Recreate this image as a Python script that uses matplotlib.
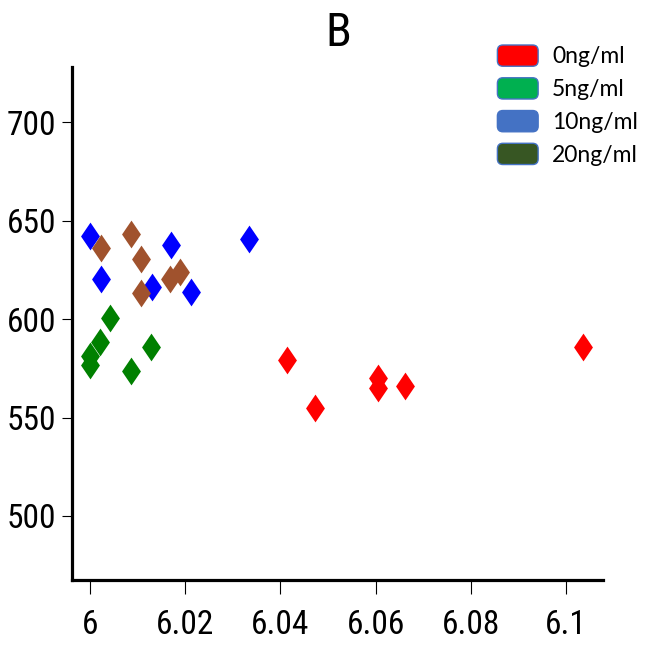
import matplotlib
matplotlib.use("Agg")
import matplotlib.pyplot as plt
from matplotlib.patches import Patch, FancyBboxPatch
from matplotlib.legend_handler import HandlerPatch


# points (x, y per group)
x_0ng = [6.0413, 6.0473, 6.0606, 6.0606, 6.0662, 6.1036]
y_0ng = [579.3, 554.9, 570.0, 565.0, 565.8, 586.0]

x_5ng = [6.0042, 6.0021, 6.0000, 6.0000, 6.0127, 6.0085]
y_5ng = [600.3, 588.4, 581.0, 576.8, 586.0, 573.4]

x_10ng = [6.0000, 6.0170, 6.0334, 6.0022, 6.0130, 6.0212]
y_10ng = [642.0, 637.4, 640.8, 620.6, 616.3, 613.8]

x_20ng = [6.0085, 6.0022, 6.0107, 6.0168, 6.0190, 6.0107]
y_20ng = [643.0, 636.2, 630.7, 620.2, 623.9, 613.0]

legend_labels = ["0ng/ml", "5ng/ml", "10ng/ml", "20ng/ml"]
legend_colors = ["#FF0000", "#00B050", "#4472C4", "#375623"]

xticks = [6, 6.02, 6.04, 6.06, 6.08, 6.1]
xtick_labels = ["6", "6.02", "6.04", "6.06", "6.08", "6.1"]
yticks = [500, 550, 600, 650, 700]

narrow = ["Roboto Condensed", "DejaVu Sans"]

# diamond, a bit wider than matplotlib's thin 'd'
diamond = [(0, 1), (0.68, 0), (0, -1), (-0.68, 0), (0, 1)]

fig = plt.figure(figsize=(6.58, 6.48), dpi=100)
ax = fig.add_axes([72 / 658, 68 / 648, 531 / 658, 513 / 648])

groups = [(x_0ng, y_0ng, "#FF0000"),
          (x_5ng, y_5ng, "#008000"),
          (x_10ng, y_10ng, "#0000FF"),
          (x_20ng, y_20ng, "#A0522D")]
for xs, ys, c in groups:
    ax.plot(xs, ys, linestyle="none", marker=diamond, markersize=20,
            color=c, markeredgewidth=0)

ax.set_xlim(5.9962, 6.1078)
ax.set_ylim(467.5, 728)
ax.set_xticks(xticks)
ax.set_xticklabels(xtick_labels)
ax.set_yticks(yticks)

for s in ["top", "right"]:
    ax.spines[s].set_visible(False)
for s in ["left", "bottom"]:
    ax.spines[s].set_linewidth(2.3)

ax.tick_params(axis="x", direction="out", length=10, width=0.8, pad=11)
ax.tick_params(axis="y", direction="out", length=7, width=0.8, pad=4.5)
for lab in ax.get_xticklabels() + ax.get_yticklabels():
    lab.set_family(narrow)
    lab.set_fontsize(24)

fig.text(338 / 658, 1 - 46 / 648, "B", ha="center", va="baseline",
         fontsize=34, family=narrow)


def rounded_box(legend, orig_handle, xdescent, ydescent, width, height, fontsize):
    return FancyBboxPatch((-xdescent + 1, -ydescent), width - 2, height,
                          boxstyle="round,pad=0,rounding_size=4")


handles = [Patch(facecolor=c, edgecolor="#4472C4", linewidth=1) for c in legend_colors]
fig.legend(handles, legend_labels, loc="upper left",
           bbox_to_anchor=(496 / 658, 1 - 45 / 648), frameon=False,
           prop={"family": "Lato", "size": 16.5},
           handlelength=1.9, handleheight=1.05, handletextpad=0.55,
           labelspacing=0.45, borderpad=0, borderaxespad=0,
           handler_map={Patch: HandlerPatch(patch_func=rounded_box)})

fig.savefig("out.png", dpi=100)
